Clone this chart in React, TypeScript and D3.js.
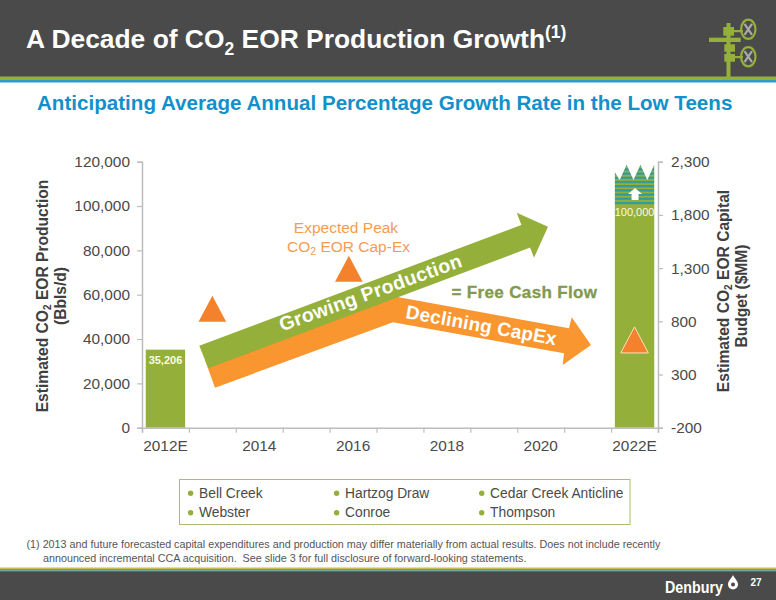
import React, { useEffect, useRef } from 'react';
import * as d3 from 'd3';

const years = ['2012E', '2013', '2014', '2015', '2016', '2017', '2018', '2019', '2020', '2021', '2022E'];
const yearLabels = ['2012E', '2014', '2016', '2018', '2020', '2022E'];
const production = [
	{ year: '2012E', value: 35206 },
	{ year: '2022E', value: 100000 },
];
const upsidePeak = 118600;
const upsideValley = 111800;
const upsideTeeth = 3;
const capexYears = [2013, 2015.91, 2022];
const capexValues = [917, 1293, 625];
const leftTicks = [0, 20000, 40000, 60000, 80000, 100000, 120000];
const rightTicks = [-200, 300, 800, 1300, 1800, 2300];
const legendRows = [
	['Bell Creek', 'Hartzog Draw', 'Cedar Creek Anticline'],
	['Webster', 'Conroe', 'Thompson'],
];

const FONT = '"Liberation Sans", Arial, sans-serif';
const GREEN = '#94b03a';
const ORANGE = '#f9962f';
const TRI = '#f4812b';
const TEAL = '#2f9b9c';
const DARK = '#4a4a4a';
const AXIS = '#bdbdbd';

type Pt = [number, number];

// arrows are slide art, not data, so they sit in pixel space
const greenArrow: Pt[] = [[199.3, 345.7], [521.4, 224.9], [516.7, 212.7], [548, 226.7], [534, 257.7], [530.1, 247.6], [208.3, 368.3]];
const orangeArrow: Pt[] = [[205, 360], [215, 387.7], [393, 322.3], [564, 353.3], [562.7, 365], [591, 345], [571.7, 317.3], [569, 328.3], [392, 296]];

export default function App(): JSX.Element {
	const ref = useRef<SVGSVGElement | null>(null);
	useEffect(() => {
		if (!ref.current) return;
		const svg = d3.select(ref.current);
		svg.selectAll('*').remove();
		svg.style('font-family', FONT);

		const top = 161.7, base = 427.7, left = 142, right = 658;
		const x = d3.scaleBand(years, [left, right]).paddingInner(0.16).paddingOuter(0.08);
		const edge = d3.scaleLinear([0, years.length], [left, right]);
		const halfStep = (edge(1) - left) / 2;
		const yearX = d3.scaleLinear([2012, 2022], [left + halfStep, right - halfStep]);
		const y = d3.scaleLinear([0, 120000], [base, top]);
		const yR = d3.scaleLinear([-200, 2300], [base, top]);
		const line = d3.line();
		const fmt = (d: any) => d3.format(',')(d).replace('−', '-');

		// header
		svg.append('rect').attr('width', 776).attr('height', 77).attr('fill', DARK);
		svg.append('rect').attr('y', 76.5).attr('width', 776).attr('height', 3.5).attr('fill', GREEN);
		svg.append('rect').attr('y', 80).attr('width', 776).attr('height', 2.5).attr('fill', '#2b9bd0');
		svg.append('text').attr('x', 26).attr('y', 48).attr('fill', '#fff').attr('font-size', 26.4).attr('font-weight', 700)
			.html('A Decade of CO<tspan dy="7" font-size="17.5">2</tspan><tspan dy="-7"> EOR Production Growth</tspan><tspan dy="-10" font-size="17.5">(1)</tspan>');
		svg.append('text').attr('x', 37).attr('y', 110).attr('fill', '#1390c9').attr('font-size', 20.6).attr('font-weight', 700)
			.text('Anticipating Average Annual Percentage Growth Rate in the Low Teens');

		// wellhead icon
		const icon = svg.append('g').attr('fill', GREEN);
		([[726.5, 23, 4, 54], [709, 37.7, 31.7, 4.3], [723.3, 27, 10.7, 8.7], [724.3, 44.3, 10.7, 7.4], [724.3, 54, 10.7, 7.7], [734, 30, 9, 2.2], [735, 56, 8, 2.2]] as number[][])
			.forEach(([a, b, w, h]) => icon.append('rect').attr('x', a).attr('y', b).attr('width', w).attr('height', h));
		[29.3, 56.7].forEach(cy => {
			icon.append('path').attr('d', `M744.5,${cy - 5.5}L752,${cy + 5.5}M752,${cy - 5.5}L744.5,${cy + 5.5}`).attr('stroke', '#a9a9a9').attr('stroke-width', 2.2).attr('fill', 'none');
			icon.append('ellipse').attr('cx', 748.3).attr('cy', cy).attr('rx', 7.2).attr('ry', 9.6).attr('fill', 'none').attr('stroke', GREEN).attr('stroke-width', 2.2);
		});

		// upside hatch on top of the last bar
		const lastBar = production[production.length - 1];
		const bx = x(lastBar.year) || 0;
		const bw = x.bandwidth();
		const defs = svg.append('defs');
		const pat = defs.append('pattern').attr('id', 'upside').attr('patternUnits', 'userSpaceOnUse').attr('width', 6).attr('height', 4.2).attr('y', y(lastBar.value));
		pat.append('rect').attr('width', 6).attr('height', 4.2).attr('fill', GREEN);
		pat.append('rect').attr('width', 6).attr('height', 2.3).attr('fill', TEAL);
		const toothW = bw / (upsideTeeth - 0.15);
		const zig: Pt[] = [[bx, y(lastBar.value)], [bx, y((upsidePeak + upsideValley) / 2)]];
		for (let i = 0; i < upsideTeeth; i++) {
			const px = bx + bw - (upsideTeeth - 1 - i) * toothW;
			zig.push([px - toothW / 2, y(upsideValley)], [px, y(upsidePeak)]);
		}
		zig.push([bx + bw, y(lastBar.value)]);
		svg.append('path').attr('d', line(zig) + 'Z').attr('fill', 'url(#upside)');
		const ux = bx + bw / 2 + 0.5, uy = y(lastBar.value) - 6;
		svg.append('path').attr('fill', '#fff')
			.attr('d', line([[ux - 3.5, uy], [ux - 3.5, uy - 6], [ux - 7, uy - 6], [ux, uy - 12], [ux + 7, uy - 6], [ux + 3.5, uy - 6], [ux + 3.5, uy]]) + 'Z');

		// bars
		svg.selectAll('rect.bar').data(production).enter().append('rect').attr('class', 'bar')
			.attr('x', d => x(d.year) || 0).attr('y', d => y(d.value)).attr('width', bw).attr('height', d => base - y(d.value)).attr('fill', GREEN);
		svg.selectAll('text.val').data(production).enter().append('text').attr('class', 'val')
			.attr('x', d => (x(d.year) || 0) + bw / 2).attr('y', (d, i) => y(d.value) + (i === 0 ? 14 : 10)).attr('text-anchor', 'middle')
			.attr('fill', '#fbfbe6').attr('font-size', 11).attr('font-weight', (_, i) => (i === 0 ? 700 : 400))
			.text(d => d3.format(',')(d.value));

		// axes
		const styleAxis = (g: any) => {
			g.selectAll('path.domain').attr('stroke', AXIS).attr('stroke-width', 1.5);
			g.selectAll('line').attr('stroke', AXIS).attr('stroke-width', 1.2);
			g.selectAll('text').attr('fill', DARK).attr('font-size', 15.4).attr('font-family', FONT);
		};
		svg.append('g').attr('transform', `translate(${left},0)`)
			.call(d3.axisLeft(y).tickValues(leftTicks).tickFormat(fmt).tickSize(5).tickPadding(7))
			.call(styleAxis);
		svg.append('g').attr('transform', `translate(${right},0)`)
			.call(d3.axisRight(yR).tickValues(rightTicks).tickFormat(fmt).tickSize(5).tickPadding(8))
			.call(styleAxis);
		svg.append('g').attr('transform', `translate(0,${base})`)
			.call(d3.axisBottom(edge).ticks(years.length).tickFormat(() => '').tickSize(5))
			.call(styleAxis);
		svg.append('g').attr('transform', `translate(0,${base})`)
			.call(d3.axisBottom(x).tickValues(yearLabels).tickSize(0).tickPadding(12))
			.call(styleAxis)
			.call((g: any) => g.select('path.domain').remove());

		// axis titles
		const title = (tx: number, cy: number, html: string) => svg.append('text').attr('transform', `translate(${tx},${cy}) rotate(-90)`)
			.attr('text-anchor', 'middle').attr('fill', '#404040').attr('font-size', 15.6).attr('font-weight', 700).html(html);
		title(48, 296, 'Estimated CO<tspan dy="3" font-size="10">2</tspan><tspan dy="-3"> EOR Production</tspan>');
		title(66, 296, '(Bbls/d)');
		title(729, 291, 'Estimated CO<tspan dy="3" font-size="10">2</tspan><tspan dy="-3"> EOR Capital</tspan>');
		title(747, 296, 'Budget ($MM)');

		// arrows
		svg.append('path').attr('d', line(orangeArrow) + 'Z').attr('fill', ORANGE);
		svg.append('path').attr('d', line(greenArrow) + 'Z').attr('fill', GREEN);
		svg.append('text').attr('transform', 'translate(282,331.5) rotate(-19.8)').attr('fill', '#fff').attr('font-size', 19.5).attr('font-weight', 700).attr('letter-spacing', 0.3).text('Growing Production');
		svg.append('text').attr('transform', 'translate(405,318) rotate(10.3)').attr('fill', '#fff').attr('font-size', 19).attr('font-weight', 700).attr('letter-spacing', 0.2).text('Declining CapEx');

		// capex markers
		svg.selectAll('path.capex').data(capexValues).enter().append('path').attr('class', 'capex')
			.attr('transform', (d, i) => `translate(${yearX(capexYears[i])},${yR(d)})`)
			.attr('d', 'M0,-13L13.8,13L-13.8,13Z').attr('fill', TRI).attr('stroke', (_, i) => (i === 2 ? '#fbe3b8' : 'none')).attr('stroke-width', 1);

		// annotations
		svg.append('text').attr('x', 346).attr('y', 233).attr('text-anchor', 'middle').attr('fill', '#f59c50').attr('font-size', 15.5).text('Expected Peak');
		svg.append('text').attr('x', 348.5).attr('y', 251.5).attr('text-anchor', 'middle').attr('fill', '#f59c50').attr('font-size', 15.5)
			.html('CO<tspan dy="3" font-size="10.5">2</tspan><tspan dy="-3"> EOR Cap-Ex</tspan>');
		svg.append('text').attr('x', 451.5).attr('y', 298).attr('fill', '#83994f').attr('stroke', '#83994f').attr('stroke-width', 0.3).attr('font-size', 17).attr('font-weight', 700).attr('letter-spacing', 0.35).text('= Free Cash Flow');

		// legend
		svg.append('rect').attr('x', 179.5).attr('y', 479.5).attr('width', 450.5).attr('height', 45).attr('fill', '#fff').attr('stroke', '#a9bd6d').attr('stroke-width', 1);
		const colX = [190.6, 336.6, 481.7];
		const rowY = d3.scalePoint(legendRows.map((_, i) => i), [492.7, 512.3]);
		legendRows.forEach((row, r) => row.forEach((name, c) => {
			svg.append('circle').attr('cx', colX[c]).attr('cy', (rowY(r) || 0) + 0.5).attr('r', 2.7).attr('fill', GREEN);
			svg.append('text').attr('x', colX[c] + 8.4).attr('y', (rowY(r) || 0) + 5).attr('fill', DARK).attr('font-size', 13.8).text(name);
		}));

		// footnote
		svg.append('text').attr('x', 26.5).attr('y', 548).attr('fill', '#555').attr('font-size', 10.75)
			.text('(1) 2013 and future forecasted capital expenditures and production may differ materially from actual results. Does not include recently');
		svg.append('text').attr('x', 43).attr('y', 562).attr('fill', '#555').attr('font-size', 10.75).style('white-space', 'pre')
			.text('announced incremental CCA acquisition.  See slide 3 for full disclosure of forward-looking statements.');

		// footer
		svg.append('rect').attr('y', 567.5).attr('width', 776).attr('height', 1.5).attr('fill', '#c3bf4e');
		svg.append('rect').attr('y', 569).attr('width', 776).attr('height', 1.5).attr('fill', '#6fa65a');
		svg.append('rect').attr('y', 570.5).attr('width', 776).attr('height', 1.5).attr('fill', '#2e7f84');
		svg.append('rect').attr('y', 572).attr('width', 776).attr('height', 28).attr('fill', DARK);
		svg.append('text').attr('x', 665).attr('y', 593).attr('fill', '#fff').attr('font-size', 17).attr('font-weight', 700).attr('textLength', 58).attr('lengthAdjust', 'spacingAndGlyphs').text('Denbury');
		svg.append('path').attr('d', 'M733,575C735,579 738,581 738,584.5A5,5 0 0 1 728,584.5C728,581 731,579 733,575Z').attr('fill', '#fff');
		svg.append('circle').attr('cx', 733).attr('cy', 584.5).attr('r', 2).attr('fill', DARK);
		svg.append('text').attr('x', 750.5).attr('y', 586).attr('fill', '#fff').attr('font-size', 10).attr('font-weight', 700).text('27');
	}, []);
	return <svg ref={ref} width={776} height={600} style={{ position: 'absolute', left: 0, top: 0, background: '#fff' }} />;
}
